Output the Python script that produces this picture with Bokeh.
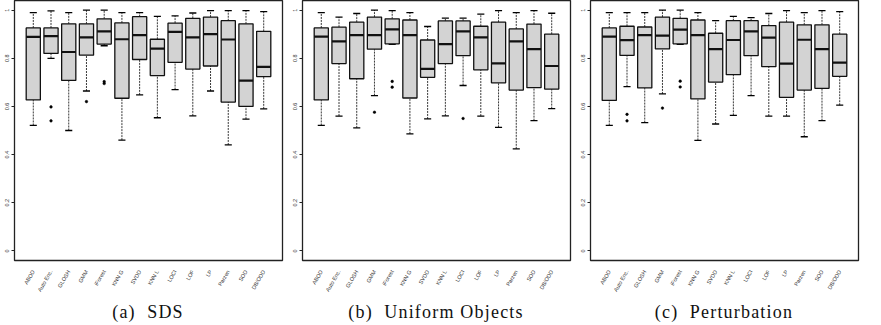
from bokeh.plotting import figure
from bokeh.layouts import row, column
from bokeh.models import Range1d, FixedTicker, ColumnDataSource, Div
from bokeh.transform import dodge
from bokeh.embed import file_html
from bokeh.resources import INLINE

categories = ["ABOD", "Auto Enc.", "GLOSH", "GMM", "iForest", "KNN G", "SVDD",
              "KNN L", "LOCI", "LOF", "LP", "Parzen", "SOD", "DB/ODD"]
y_ticks = [0.0, 0.2, 0.4, 0.6, 0.8, 1.0]

# (a) SDS
sds_low = [0.521, 0.80, 0.50, 0.664, 0.852, 0.46, 0.648, 0.553, 0.67, 0.561, 0.664, 0.44, 0.547, 0.59]
sds_q1 = [0.627, 0.82, 0.708, 0.813, 0.859, 0.634, 0.795, 0.728, 0.783, 0.755, 0.768, 0.618, 0.60, 0.724]
sds_med = [0.889, 0.892, 0.826, 0.887, 0.912, 0.879, 0.896, 0.84, 0.91, 0.887, 0.90, 0.878, 0.707, 0.764]
sds_q3 = [0.926, 0.926, 0.943, 0.943, 0.964, 0.947, 0.973, 0.879, 0.946, 0.966, 0.971, 0.956, 0.943, 0.912]
sds_high = [0.99, 0.997, 0.99, 1.0, 1.0, 0.99, 0.99, 0.974, 0.976, 0.988, 0.998, 0.998, 0.998, 0.994]
sds_out_cat = ["Auto Enc.", "Auto Enc.", "GMM", "iForest", "iForest"]
sds_out_val = [0.598, 0.54, 0.62, 0.703, 0.695]

# (b) Uniform Objects
uni_low = [0.521, 0.56, 0.511, 0.645, 0.858, 0.486, 0.548, 0.561, 0.687, 0.56, 0.513, 0.424, 0.541, 0.591]
uni_q1 = [0.627, 0.778, 0.715, 0.838, 0.86, 0.635, 0.721, 0.778, 0.811, 0.752, 0.698, 0.668, 0.678, 0.672]
uni_med = [0.89, 0.87, 0.896, 0.896, 0.92, 0.896, 0.756, 0.859, 0.912, 0.887, 0.779, 0.87, 0.838, 0.768]
uni_q3 = [0.926, 0.929, 0.95, 0.971, 0.964, 0.959, 0.876, 0.955, 0.955, 0.933, 0.95, 0.922, 0.942, 0.90]
uni_high = [0.99, 0.971, 0.986, 1.0, 0.998, 0.99, 0.932, 0.967, 0.967, 0.983, 0.998, 0.99, 0.998, 0.987]
uni_out_cat = ["GMM", "iForest", "iForest", "LOCI"]
uni_out_val = [0.576, 0.704, 0.68, 0.55]

# (c) Perturbation
per_low = [0.521, 0.682, 0.533, 0.652, 0.858, 0.459, 0.527, 0.563, 0.645, 0.56, 0.56, 0.474, 0.541, 0.605]
per_q1 = [0.625, 0.812, 0.677, 0.839, 0.86, 0.631, 0.701, 0.732, 0.811, 0.765, 0.638, 0.668, 0.675, 0.725]
per_med = [0.89, 0.875, 0.896, 0.894, 0.919, 0.896, 0.838, 0.876, 0.912, 0.886, 0.778, 0.877, 0.838, 0.782]
per_q3 = [0.926, 0.933, 0.93, 0.971, 0.966, 0.959, 0.904, 0.956, 0.956, 0.936, 0.95, 0.939, 0.939, 0.90]
per_high = [0.99, 0.99, 0.99, 1.0, 1.0, 0.99, 0.956, 0.974, 0.969, 0.986, 0.998, 0.99, 0.998, 0.994]
per_out_cat = ["Auto Enc.", "Auto Enc.", "GMM", "iForest", "iForest"]
per_out_val = [0.567, 0.54, 0.593, 0.705, 0.681]

captions = ["(a)&nbsp; SDS", "(b)&nbsp; Uniform Objects", "(c)&nbsp; Perturbation"]

FIG_W, FIG_H = 288, 298


def panel(caption, low, q1, med, q3, high, out_cat, out_val):
    pos = list(range(1, len(categories) + 1))
    src = ColumnDataSource(dict(x=pos, low=low, q1=q1, med=med, q3=q3, high=high))
    out_src = ColumnDataSource(dict(x=[categories.index(c) + 1 for c in out_cat], y=out_val))

    p = figure(width=FIG_W, height=FIG_H, output_backend="svg", toolbar_location=None,
               x_range=Range1d(-0.06, 15.06), y_range=Range1d(-0.04, 1.04),
               min_border_left=14, min_border_right=6, min_border_top=0,
               min_border_bottom=38)
    p.background_fill_color = "white"
    p.border_fill_color = "white"
    p.outline_line_color = "#222222"
    p.outline_line_width = 1.3
    p.grid.visible = False

    # whiskers (dashed)
    p.segment(x0="x", y0="q3", x1="x", y1="high", source=src,
              line_color="#222222", line_width=0.9, line_dash="2 1")
    p.segment(x0="x", y0="low", x1="x", y1="q1", source=src,
              line_color="#222222", line_width=0.9, line_dash="2 1")
    # caps
    p.segment(x0=dodge("x", -0.2), y0="high", x1=dodge("x", 0.2), y1="high", source=src,
              line_color="black", line_width=1.3)
    p.segment(x0=dodge("x", -0.2), y0="low", x1=dodge("x", 0.2), y1="low", source=src,
              line_color="black", line_width=1.3)
    # boxes
    p.vbar(x="x", width=0.8, bottom="q1", top="q3", source=src,
           fill_color="#d3d3d3", line_color="#111111", line_width=1.3)
    # medians
    p.segment(x0=dodge("x", -0.4), y0="med", x1=dodge("x", 0.4), y1="med", source=src,
              line_color="#111111", line_width=2.2)
    # outliers
    p.scatter(x="x", y="y", source=out_src, size=2.6, marker="circle",
              fill_color="black", line_color="black", line_width=0.5)

    xa = p.xaxis[0]
    xa.ticker = FixedTicker(ticks=pos)
    xa.major_label_overrides = {i + 1: c for i, c in enumerate(categories)}
    xa.major_label_orientation = 1.0472
    xa.major_label_text_font = "Liberation Sans"
    xa.major_label_text_font_size = "5.5px"
    xa.major_label_text_color = "#333333"
    xa.major_label_standoff = 4
    xa.major_tick_line_color = None
    xa.minor_tick_line_color = None
    xa.axis_line_color = None

    ya = p.yaxis[0]
    ya.ticker = FixedTicker(ticks=y_ticks)
    ya.major_label_orientation = "vertical"
    ya.major_label_text_font = "Liberation Sans"
    ya.major_label_text_font_size = "5.5px"
    ya.major_label_text_color = "#333333"
    ya.major_label_standoff = 2
    ya.major_tick_out = 3
    ya.major_tick_in = 0
    ya.major_tick_line_color = "#222222"
    ya.minor_tick_line_color = None
    ya.axis_line_color = None

    cap = Div(text=caption, width=FIG_W, height=19, margin=(0, 0, 0, 0),
              styles={"text-align": "center", "font-family": "Liberation Serif",
                      "font-size": "18px", "line-height": "14px", "color": "#111111",
                      "letter-spacing": "1.2px", "padding-left": "8px",
                      "padding-top": "7px",
                      "box-sizing": "border-box", "overflow": "visible"})
    return column(p, cap, spacing=0)


c1 = panel(captions[0], sds_low, sds_q1, sds_med, sds_q3, sds_high, sds_out_cat, sds_out_val)
c2 = panel(captions[1], uni_low, uni_q1, uni_med, uni_q3, uni_high, uni_out_cat, uni_out_val)
c3 = panel(captions[2], per_low, per_q1, per_med, per_q3, per_high, per_out_cat, per_out_val)

layout = row(c1, c2, c3, spacing=0)
open("out.html", "w").write(file_html(layout, INLINE))
